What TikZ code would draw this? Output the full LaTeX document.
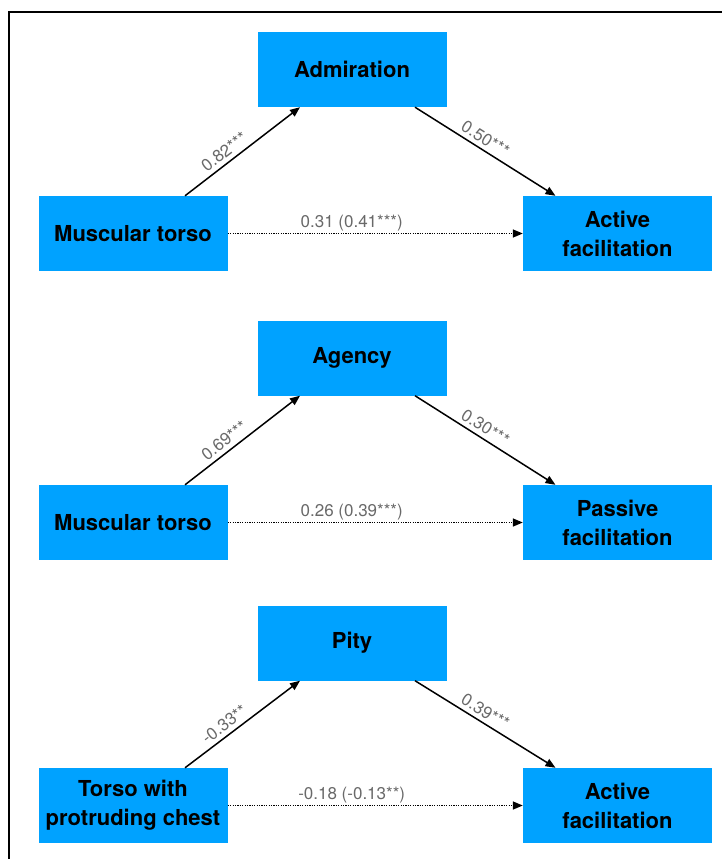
\documentclass[tikz,border=0pt]{standalone}
\usepackage{fontspec}
\setmainfont{TeX Gyre Heros}
\usetikzlibrary{arrows.meta}
\definecolor{boxblue}{RGB}{0,162,255}
\definecolor{labgray}{RGB}{105,105,105}

\begin{document}
\begin{tikzpicture}
[x=1pt, y=1pt,
box/.style={fill=boxblue, minimum width=189pt, minimum height=75pt, inner sep=0pt, align=center, font=\fontsize{22}{29}\selectfont\bfseries},
path/.style={-{Triangle[length=10pt,width=8pt]}, line width=1.5pt},
direct/.style={path, dash pattern=on 1.2pt off 1.2pt},
coef/.style={font=\fontsize{17}{20}\selectfont, text=labgray, inner sep=2pt},
slopedcoef/.style={coef, sloped, above, inner sep=4pt}]

\useasboundingbox (0,0) rectangle (722,-859);
\draw[line width=2.5pt] (722,-12) -- (9,-12) -- (9,-859);

% admiration
\node[box] (m1) at (352,-69.5) {Admiration};
\node[box] (x1) at (133,-233.5) {Muscular torso};
\node[box] (y1) at (617.5,-233.5) {Active\\facilitation};

\draw[path] ([xshift=52pt]x1.north) -- node[slopedcoef, pos=0.4] {0.82***} ([xshift=-52pt]m1.south);
\draw[path] ([xshift=63pt]m1.south) -- node[slopedcoef, pos=0.46] {0.50***} ([xshift=-62pt]y1.north);
\draw[direct] (x1) -- node[coef, above, pos=0.42] {0.31 (0.41***)} (y1);

% agency
\node[box] (m2) at (352,-358) {Agency};
\node[box] (x2) at (133,-522.5) {Muscular torso};
\node[box] (y2) at (617.5,-522.5) {Passive\\facilitation};

\draw[path] ([xshift=52pt]x2.north) -- node[slopedcoef, pos=0.4] {0.69***} ([xshift=-52pt]m2.south);
\draw[path] ([xshift=63pt]m2.south) -- node[slopedcoef, pos=0.46] {0.30***} ([xshift=-62pt]y2.north);
\draw[direct] (x2) -- node[coef, above, pos=0.42] {0.26 (0.39***)} (y2);

% pity
\node[box] (m3) at (352,-643) {Pity};
\node[box] (x3) at (133,-805.5) {Torso with\\protruding chest};
\node[box] (y3) at (617.5,-805.5) {Active\\facilitation};

\draw[path] ([xshift=52pt]x3.north) -- node[slopedcoef, pos=0.4] {-0.33**} ([xshift=-52pt]m3.south);
\draw[path] ([xshift=63pt]m3.south) -- node[slopedcoef, pos=0.46] {0.39***} ([xshift=-62pt]y3.north);
\draw[direct] (x3) -- node[coef, above, pos=0.42] {-0.18 (-0.13**)} (y3);
\end{tikzpicture}
\end{document}
